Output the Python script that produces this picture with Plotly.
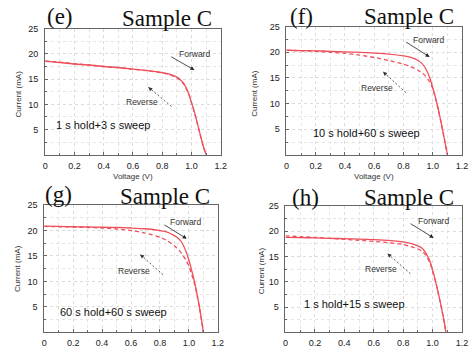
import plotly.graph_objects as go

# ---------------- data ----------------
# Panel (e): 1 s hold + 3 s sweep
e_fwd_v = [0, 0.1, 0.2, 0.3, 0.4, 0.5, 0.6, 0.7, 0.8, 0.85, 0.9, 0.93, 0.95, 0.98, 1.0, 1.02, 1.04, 1.06, 1.08, 1.10]
e_fwd_j = [18.5, 18.3, 18.0, 17.8, 17.5, 17.3, 17.0, 16.7, 16.3, 16.0, 15.4, 14.7, 14.0, 12.2, 10.4, 8.5, 6.3, 4.0, 1.8, 0.0]
e_rev_v = [0, 0.1, 0.2, 0.3, 0.4, 0.5, 0.6, 0.7, 0.8, 0.85, 0.9, 0.93, 0.95, 0.98, 1.0, 1.02, 1.04, 1.06, 1.08, 1.10]
e_rev_j = [18.6, 18.35, 18.05, 17.8, 17.5, 17.25, 16.95, 16.65, 16.25, 15.9, 15.3, 14.6, 13.9, 12.1, 10.3, 8.4, 6.2, 3.9, 1.7, 0.0]

# Panel (f): 10 s hold + 60 s sweep
f_fwd_v = [0, 0.1, 0.2, 0.3, 0.4, 0.5, 0.6, 0.7, 0.8, 0.85, 0.9, 0.93, 0.95, 0.98, 1.0, 1.02, 1.04, 1.06, 1.08, 1.10]
f_fwd_j = [20.4, 20.35, 20.3, 20.2, 20.1, 20.0, 19.85, 19.65, 19.3, 19.0, 18.4, 17.7, 16.9, 15.0, 13.1, 11.0, 8.6, 5.9, 3.0, 0.0]
f_rev_v = [0, 0.1, 0.2, 0.3, 0.4, 0.5, 0.6, 0.7, 0.8, 0.85, 0.9, 0.93, 0.95, 0.98, 1.0, 1.02, 1.04, 1.06, 1.08, 1.10]
f_rev_j = [20.4, 20.3, 20.2, 20.0, 19.8, 19.45, 19.0, 18.4, 17.7, 17.2, 16.5, 15.9, 15.4, 14.2, 12.9, 10.9, 8.5, 5.8, 2.9, 0.0]

# Panel (g): 60 s hold + 60 s sweep
g_fwd_v = [0, 0.1, 0.2, 0.3, 0.4, 0.5, 0.6, 0.7, 0.8, 0.85, 0.9, 0.93, 0.95, 0.98, 1.0, 1.02, 1.04, 1.06, 1.08, 1.10]
g_fwd_j = [20.85, 20.8, 20.75, 20.7, 20.65, 20.6, 20.5, 20.35, 20.0, 19.7, 19.0, 18.4, 17.7, 15.9, 14.2, 12.1, 9.8, 7.0, 3.8, 0.0]
g_rev_v = [0, 0.1, 0.2, 0.3, 0.4, 0.5, 0.6, 0.7, 0.8, 0.85, 0.9, 0.93, 0.95, 0.98, 1.0, 1.02, 1.04, 1.06, 1.08, 1.10]
g_rev_j = [20.8, 20.75, 20.7, 20.6, 20.5, 20.3, 20.0, 19.5, 18.7, 18.0, 17.0, 16.2, 15.5, 14.2, 13.0, 11.3, 9.4, 6.8, 3.7, 0.0]

# Panel (h): 1 s hold + 15 s sweep
h_fwd_v = [0, 0.1, 0.2, 0.3, 0.4, 0.5, 0.6, 0.7, 0.8, 0.85, 0.9, 0.93, 0.95, 0.98, 1.0, 1.02, 1.04, 1.06, 1.08, 1.09]
h_fwd_j = [18.8, 18.75, 18.7, 18.6, 18.55, 18.45, 18.35, 18.2, 17.9, 17.6, 17.1, 16.6, 15.9, 14.2, 12.3, 10.1, 7.6, 4.9, 1.9, 0.0]
h_rev_v = [0, 0.1, 0.2, 0.3, 0.4, 0.5, 0.6, 0.7, 0.8, 0.85, 0.9, 0.93, 0.95, 0.98, 1.0, 1.02, 1.04, 1.06, 1.08, 1.09]
h_rev_j = [19.1, 18.95, 18.8, 18.6, 18.4, 18.2, 18.0, 17.75, 17.4, 17.0, 16.5, 16.0, 15.4, 13.9, 12.1, 10.0, 7.5, 4.8, 1.8, 0.0]

panel_letters = ["(e)", "(f)", "(g)", "(h)"]
panel_labels = ["1 s hold+3 s sweep", "10 s hold+60 s sweep", "60 s hold+60 s sweep", "1 s hold+15 s sweep"]
x_tickvals = [0, 0.2, 0.4, 0.6, 0.8, 1.0, 1.2]
x_ticktext = ["0", "0.2", "0.4", "0.6", "0.8", "1.0", "1.2"]
y_tickvals = [5, 10, 15, 20, 25]
y_ticktext = ["5", "10", "15", "20", "25"]

# ---------------- layout helpers ----------------
W, H = 470, 351
RED = "#ef4f5a"
SERIF = "Liberation Serif, Times New Roman, serif"
SANS = "Liberation Sans, Arial, sans-serif"

# plot areas in pixels: (left, right, top, bottom)
boxes = [(43, 222, 24, 152), (289, 468, 22, 152), (42, 219, 203, 332), (288, 468, 204, 332)]

series = [
    (e_fwd_v, e_fwd_j, e_rev_v, e_rev_j),
    (f_fwd_v, f_fwd_j, f_rev_v, f_rev_j),
    (g_fwd_v, g_fwd_j, g_rev_v, g_rev_j),
    (h_fwd_v, h_fwd_j, h_rev_v, h_rev_j),
]

# annotation positions in data coordinates per panel
fwd_text = [(1.022, 19.9), (0.969, 22.4), (0.98, 21.6), (1.004, 22.0)]
fwd_arrow = [((0.851, 19.6), (1.02, 16.8)), ((0.807, 22.2), (0.978, 19.1)),
             ((0.82, 21.3), (0.985, 18.4)), ((0.84, 21.7), (1.007, 18.7))]
rev_text = [(0.662, 10.5), (0.616, 13.0), (0.623, 12.1), (0.649, 12.5)]
rev_arrow = [((0.863, 9.6), (0.705, 13.4)), ((0.816, 12.15), (0.66, 16.2)),
             ((0.822, 11.3), (0.663, 15.3)), ((0.849, 11.6), (0.693, 15.6))]
label_pos = [(0.063, 6.0), (0.167, 4.3), (0.097, 3.9), (0.111, 5.6)]
letter_pos = [(58, 12), (304, 12), (57, 192), (308, 195)]
sample_pos = [(215, 14), (462, 12), (213, 194), (462, 195)]
ylab_pos = [(16, 90), (257, 90), (14, 267), (263, 269)]
xlab_pos = [(133, 174), (378, 174), None, None]

fig = go.Figure()
annotations = []
shapes = []

for i, (l, r, t, b) in enumerate(boxes):
    n = "" if i == 0 else str(i + 1)
    xa, ya = "x" + n, "y" + n
    fv, fj, rv, rj = series[i]
    fig.add_trace(go.Scatter(x=fv, y=fj, mode="lines", xaxis=xa, yaxis=ya,
                             line=dict(color=RED, width=1.3, shape="spline", smoothing=0.6),
                             showlegend=False, hoverinfo="skip"))
    fig.add_trace(go.Scatter(x=rv, y=rj, mode="lines", xaxis=xa, yaxis=ya,
                             line=dict(color=RED, width=1.3, dash="4px,3px", shape="spline", smoothing=0.6),
                             showlegend=False, hoverinfo="skip"))
    axis_common = dict(showline=True, mirror=True, linecolor="#666", linewidth=1,
                       ticks="inside", ticklen=3, tickcolor="#666", zeroline=False,
                       showgrid=True, gridcolor="#dcdcdc", griddash="dot", gridwidth=1,
                       tickfont=dict(family=SANS, size=9, color="#222"))
    fig.layout["xaxis" + n] = dict(
        domain=[l / W, r / W], anchor=ya, range=[0, 1.2],
        tickvals=x_tickvals, ticktext=x_ticktext, ticklabelstandoff=2,
        minor=dict(dtick=0.1, tick0=0, showgrid=True, gridcolor="#e4e4e4", griddash="dot",
                   ticks="inside", ticklen=2, tickcolor="#666"),
        **axis_common)
    fig.layout["yaxis" + n] = dict(
        domain=[1 - b / H, 1 - t / H], anchor=xa, range=[0, 25],
        tickvals=y_tickvals, ticktext=y_ticktext, ticklabelstandoff=4,
        minor=dict(dtick=2.5, tick0=0, showgrid=True, gridcolor="#e4e4e4", griddash="dot",
                   ticks="inside", ticklen=2, tickcolor="#666"),
        **axis_common)

    xr, yr = xa, ya
    # Forward label and solid arrow
    annotations.append(dict(x=fwd_text[i][0], y=fwd_text[i][1], xref=xr, yref=yr, text="Forward",
                            showarrow=False, font=dict(family=SANS, size=8.5, color="#333")))
    (sx, sy), (ex, ey) = fwd_arrow[i]
    annotations.append(dict(x=ex, y=ey, ax=sx, ay=sy, xref=xr, yref=yr, axref=xr, ayref=yr,
                            text="", showarrow=True, arrowhead=2, arrowsize=1, arrowwidth=0.8,
                            arrowcolor="#222"))
    # Reverse label and dashed arrow
    annotations.append(dict(x=rev_text[i][0], y=rev_text[i][1], xref=xr, yref=yr, text="Reverse",
                            showarrow=False, font=dict(family=SANS, size=8.5, color="#333")))
    (sx, sy), (ex, ey) = rev_arrow[i]
    shapes.append(dict(type="line", x0=sx, y0=sy, x1=ex, y1=ey, xref=xr, yref=yr,
                       line=dict(color="#333", width=0.8, dash="2px,2px")))
    annotations.append(dict(x=ex, y=ey, ax=ex + (sx - ex) * 0.12, ay=ey + (sy - ey) * 0.12,
                            xref=xr, yref=yr, axref=xr, ayref=yr,
                            text="", showarrow=True, arrowhead=2, arrowsize=1, arrowwidth=0.8,
                            arrowcolor="#333"))
    # condition label
    annotations.append(dict(x=label_pos[i][0], y=label_pos[i][1], xref=xr, yref=yr,
                            text=panel_labels[i], showarrow=False, xanchor="left",
                            font=dict(family=SANS, size=11, color="#111")))
    # panel letter and sample title (paper coordinates)
    annotations.append(dict(x=letter_pos[i][0] / W, y=1 - letter_pos[i][1] / H, xref="paper", yref="paper",
                            text=panel_letters[i], showarrow=False, xanchor="center", yanchor="middle",
                            font=dict(family=SERIF, size=23, color="#111")))
    annotations.append(dict(x=sample_pos[i][0] / W, y=1 - sample_pos[i][1] / H, xref="paper", yref="paper",
                            text="Sample C", showarrow=False, xanchor="right", yanchor="middle",
                            font=dict(family=SERIF, size=23, color="#111")))
    annotations.append(dict(x=ylab_pos[i][0] / W, y=1 - ylab_pos[i][1] / H, xref="paper", yref="paper",
                            text="Current (mA)", showarrow=False, textangle=-90,
                            xanchor="center", yanchor="middle",
                            font=dict(family=SANS, size=8, color="#333")))
    if xlab_pos[i] is not None:
        annotations.append(dict(x=xlab_pos[i][0] / W, y=1 - xlab_pos[i][1] / H, xref="paper", yref="paper",
                                text="Voltage (V)", showarrow=False, xanchor="center", yanchor="middle",
                                font=dict(family=SANS, size=8, color="#333")))

fig.update_layout(width=W, height=H, margin=dict(l=0, r=0, t=0, b=0),
                  paper_bgcolor="white", plot_bgcolor="white",
                  annotations=annotations, shapes=shapes)
fig.write_html("out.html", config={"displayModeBar": False},
               post_script="document.body.style.margin='0';document.body.style.overflow='hidden';")
